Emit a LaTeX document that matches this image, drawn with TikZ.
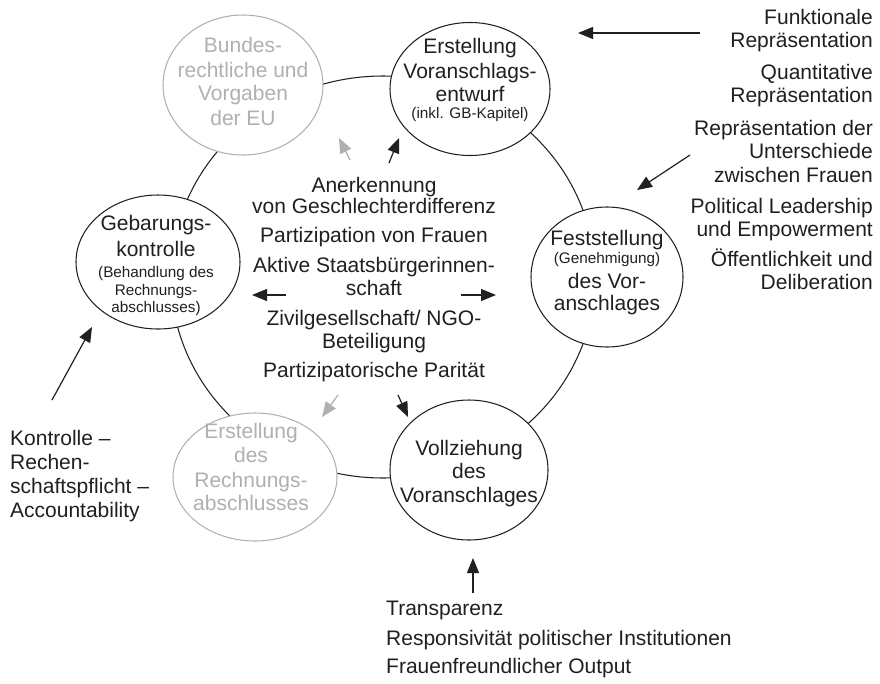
\documentclass[tikz,border=0pt]{standalone}
\usepackage{fontspec}
\setmainfont{Liberation Sans}
\usetikzlibrary{arrows.meta,shapes.geometric}
\definecolor{ink}{HTML}{231F20}
\definecolor{faded}{HTML}{B0B0B0}
\begin{document}
\begin{tikzpicture}[x=1pt,y=-1pt,
  stage/.style={draw=ink, line width=1.05pt, ellipse, fill=white, inner sep=0pt,
                minimum width=160pt, minimum height=136pt},
  fadedstage/.style={stage, draw=faded},
  ln/.style={font=\fontsize{21}{24}\selectfont, text=ink, anchor=base, inner sep=0pt},
  sm/.style={font=\fontsize{15.3}{18}\selectfont, text=ink, anchor=base, inner sep=0pt},
  fd/.style={text=faded},
  rt/.style={ln, anchor=base east},
  lt/.style={ln, anchor=base west},
  arr/.style={draw=ink, line width=1.2pt, -{Triangle[length=15pt,width=12pt]}},
  farr/.style={arr, draw=faded, fill=faded},
]
\useasboundingbox (0,0) rectangle (880,683);
\fill[white] (0,0) rectangle (880,683);

% main cycle
\draw[ink, line width=1.05pt] (383,277) ellipse [x radius=212, y radius=201];

% stage nodes
\node[fadedstage, minimum width=160pt, minimum height=140pt] (bund) at (243,85) {};
\node[stage, minimum width=160pt, minimum height=133pt] (entw) at (470,89) {};
\node[stage, minimum width=152pt, minimum height=140pt] (fest) at (607,277) {};
\node[stage, minimum width=158pt, minimum height=140pt] (voll) at (469,470) {};
\node[fadedstage, minimum width=164pt, minimum height=128pt] (rabs) at (255,477) {};
\node[stage, minimum width=164pt, minimum height=134pt] (geba) at (158,262) {};

% texts in stages
\node[ln, fd] (b1) at (243,52) {Bundes-};
\node[ln, fd] (b2) at (243,77) {rechtliche und};
\node[ln, fd] (b3) at (243,100) {Vorgaben};
\node[ln, fd] (b4) at (243,125) {der EU};

\node[ln] (e1) at (470,53) {Erstellung};
\node[ln] (e2) at (470,78) {Voranschlags-};
\node[ln] (e3) at (470,101) {entwurf};
\node[sm] (e4) at (470,118) {(inkl. GB-Kapitel)};

\node[ln] (f1) at (607,245) {Feststellung};
\node[sm] (f2) at (607,263) {(Genehmigung)};
\node[ln] (f3) at (607,288) {des Vor-};
\node[ln] (f4) at (607,310) {anschlages};

\node[ln] (v1) at (469,455) {Vollziehung};
\node[ln] (v2) at (469,478) {des};
\node[ln] (v3) at (469,502) {Voranschlages};

\node[ln, fd] (r1) at (251,438) {Erstellung};
\node[ln, fd] (r2) at (251,462) {des};
\node[ln, fd] (r3) at (251,487) {Rechnungs-};
\node[ln, fd] (r4) at (251,510) {abschlusses};

\node[ln] (g1) at (156,230) {Gebarungs-};
\node[ln] (g2) at (156,256) {kontrolle};
\node[sm] (g3) at (156,277) {(Behandlung des};
\node[sm] (g4) at (156,295) {Rechnungs-};
\node[sm] (g5) at (156,312) {abschlusses)};

% centre text
\node[ln] (c1) at (374,192) {Anerkennung};
\node[ln] (c2) at (374,213) {von Geschlechterdifferenz};
\node[ln] (c3) at (374,242) {Partizipation von Frauen};
\node[ln] (c4) at (374,272) {Aktive Staatsbürgerinnen-};
\node[ln] (c5) at (374,295) {schaft};
\node[ln] (c6) at (374,325) {Zivilgesellschaft/ NGO-};
\node[ln] (c7) at (374,348) {Beteiligung};
\node[ln] (c8) at (374,377) {Partizipatorische Parität};

% right text
\node[rt] (q1) at (873,24) {Funktionale};
\node[rt] (q2) at (873,47) {Repräsentation};
\node[rt] (q3) at (873,79) {Quantitative};
\node[rt] (q4) at (873,102) {Repräsentation};
\node[rt] (q5) at (873,135) {Repräsentation der};
\node[rt] (q6) at (873,158) {Unterschiede};
\node[rt] (q7) at (873,182) {zwischen Frauen};
\node[rt] (q8) at (873,213) {Political Leadership};
\node[rt] (q9) at (873,236) {und Empowerment};
\node[rt] (q10) at (873,266) {Öffentlichkeit und};
\node[rt] (q11) at (873,289) {Deliberation};

% left text
\node[lt] (k1) at (10,445) {Kontrolle –};
\node[lt] (k2) at (10,469) {Rechen-};
\node[lt] (k3) at (10,493) {schaftspflicht –};
\node[lt] (k4) at (10,517) {Accountability};

% bottom text
\node[lt] (t1) at (386,615) {Transparenz};
\node[lt] (t2) at (386,645) {Responsivität politischer Institutionen};
\node[lt] (t3) at (386,673) {Frauenfreundlicher Output};

% arrow end points
\coordinate (a1s) at (700,33);  \coordinate (a1e) at (578,33);
\coordinate (a2s) at (690,155); \coordinate (a2e) at (637,190);
\coordinate (a3s) at (473,593); \coordinate (a3e) at (473,558);
\coordinate (a4s) at (52,400);  \coordinate (a4e) at (92,327);
\coordinate (c1s) at (350,160); \coordinate (c1e) at (339,138);
\coordinate (c2s) at (389,163); \coordinate (c2e) at (399,138);
\coordinate (c3s) at (286,295); \coordinate (c3e) at (252,295);
\coordinate (c4s) at (461,295); \coordinate (c4e) at (496,295);
\coordinate (c5s) at (338,395); \coordinate (c5e) at (322,417);
\coordinate (c6s) at (398,395); \coordinate (c6e) at (408,417);

\draw[arr] (a1s) -- (a1e);
\draw[arr] (a2s) -- (a2e);
\draw[arr] (a3s) -- (a3e);
\draw[arr] (a4s) -- (a4e);
\draw[farr] (c1s) -- (c1e);
\draw[arr] (c2s) -- (c2e);
\draw[arr] (c3s) -- (c3e);
\draw[arr] (c4s) -- (c4e);
\draw[farr] (c5s) -- (c5e);
\draw[arr] (c6s) -- (c6e);
\end{tikzpicture}
\end{document}
